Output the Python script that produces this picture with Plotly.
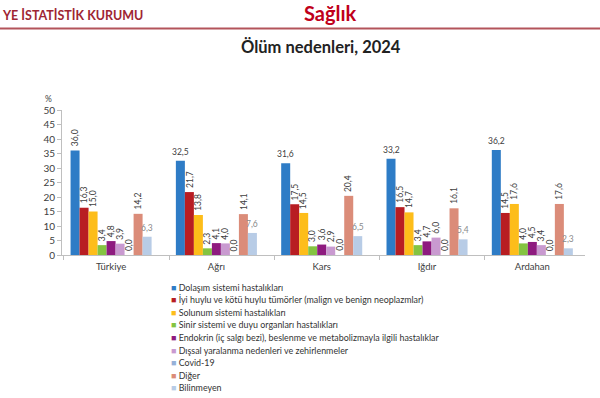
import plotly.graph_objects as go

regions = ["Türkiye", "Ağrı", "Kars", "Iğdır", "Ardahan"]
causes = [
    "Dolaşım sistemi hastalıkları",
    "İyi huylu ve kötü huylu tümörler (malign ve benign neoplazmlar)",
    "Solunum sistemi hastalıkları",
    "Sinir sistemi ve duyu organları hastalıkları",
    "Endokrin (iç salgı bezi), beslenme ve metabolizmayla ilgili hastalıklar",
    "Dışsal yaralanma nedenleri ve zehirlenmeler",
    "Covid-19",
    "Diğer",
    "Bilinmeyen",
]
dolasim = [36.0, 32.5, 31.6, 33.2, 36.2]
tumor = [16.3, 21.7, 17.5, 16.5, 14.5]
solunum = [15.0, 13.8, 14.5, 14.7, 17.6]
sinir = [3.4, 2.3, 3.0, 3.4, 4.0]
endokrin = [4.8, 4.1, 3.6, 4.7, 4.5]
dissal = [3.9, 4.0, 2.9, 6.0, 3.4]
covid = [0.0, 0.0, 0.0, 0.0, 0.0]
diger = [14.2, 14.1, 20.4, 16.1, 17.6]
bilinmeyen = [6.3, 7.6, 6.5, 5.4, 2.3]
series = [dolasim, tumor, solunum, sinir, endokrin, dissal, covid, diger, bilinmeyen]
colors = ["#2E7CC6", "#B81D22", "#FDBD1A", "#84C441", "#8E1B7F",
          "#C99AD0", "#96B1D8", "#DB8C79", "#B8CCE6"]
y_ticks = list(range(0, 55, 5))

BW = 0.0855
L, R, T, B = 62, 15, 110, 143
PW = 600 - L - R
PH = 398 - T - B

fig = go.Figure()
annotations = []
for j, (name, vals, col) in enumerate(zip(causes, series, colors)):
    xs = [g + (j - 4) * BW for g in range(len(regions))]
    fig.add_trace(go.Bar(x=xs, y=vals, width=BW, name=name,
                         marker=dict(color=col, line=dict(width=0)),
                         showlegend=False, hoverinfo="skip"))
    for g, (x, v) in enumerate(zip(xs, vals)):
        horizontal = (j == 8) or (j == 0 and g > 0)
        annotations.append(dict(
            x=x, y=v, xref="x", yref="y",
            text=f"{v:.1f}".replace(".", ","),
            showarrow=False, textangle=0 if horizontal else -90,
            xanchor="center", yanchor="bottom", yshift=2,
            font=dict(size=8.5, color="#8A8A8A" if j == 8 else "#404040",
                      family="Lato")))

def px(xp):
    return (xp - L) / PW

def py(yp):
    return (398 - B - yp) / PH

# legend
for j, (name, col) in enumerate(zip(causes, colors)):
    annotations.append(dict(
        x=px(169), y=py(287 + j * 12.6), xref="paper", yref="paper",
        text=f"<span style='color:{col}'>■</span> {name}",
        showarrow=False, xanchor="left", yanchor="middle",
        font=dict(size=8.9, color="#333333", family="Lato")))

# header
annotations += [
    dict(x=px(0), y=py(15), xref="paper", yref="paper", text="<b>YE İSTATİSTİK KURUMU</b>",
         showarrow=False, xanchor="left", yanchor="middle",
         font=dict(size=12.5, color="#9E2533", family="Lato")),
    dict(x=px(330), y=py(13), xref="paper", yref="paper", text="<b>Sağlık</b>",
         showarrow=False, xanchor="center", yanchor="middle",
         font=dict(size=20, color="#C0001B", family="Lato")),
    dict(x=px(321), y=py(47), xref="paper", yref="paper", text="<b>Ölüm nedenleri, 2024</b>",
         showarrow=False, xanchor="center", yanchor="middle",
         font=dict(size=16.5, color="#222222", family="Lato")),
    dict(x=px(48), y=py(99), xref="paper", yref="paper", text="%",
         showarrow=False, xanchor="center", yanchor="middle",
         font=dict(size=8.5, color="#404040", family="Lato")),
]

fig.add_shape(type="line", xref="paper", yref="paper",
              x0=px(0), x1=px(600), y0=py(28.5), y1=py(28.5),
              line=dict(color="#B3545B", width=2))

fig.update_layout(
    width=600, height=398,
    margin=dict(l=L, r=R, t=T, b=B),
    paper_bgcolor="white", plot_bgcolor="white",
    barmode="overlay", annotations=annotations,
    font=dict(family="Lato", color="#404040"),
)
fig.update_xaxes(range=[-0.466, 4.5], tickvals=list(range(len(regions))), ticktext=regions,
                 ticks="", showline=True, linecolor="#BFBFBF", linewidth=1,
                 showgrid=False, zeroline=False, tickfont=dict(size=9.5, color="#404040"),
                 ticklabelstandoff=3,
                 minor=dict(tickmode="linear", tick0=-0.45, dtick=1, ticks="outside",
                            ticklen=4, tickcolor="#BFBFBF", showgrid=False))
fig.update_yaxes(range=[0, 50], tickvals=y_ticks, ticks="outside", ticklen=4,
                 tickcolor="#BFBFBF", showline=True, linecolor="#BFBFBF", linewidth=1,
                 showgrid=False, zeroline=False, tickfont=dict(size=10, color="#404040"))

fig.write_html("out.html", config={"displayModeBar": False},
               post_script="document.body.style.margin='0';document.body.style.overflow='hidden';")
